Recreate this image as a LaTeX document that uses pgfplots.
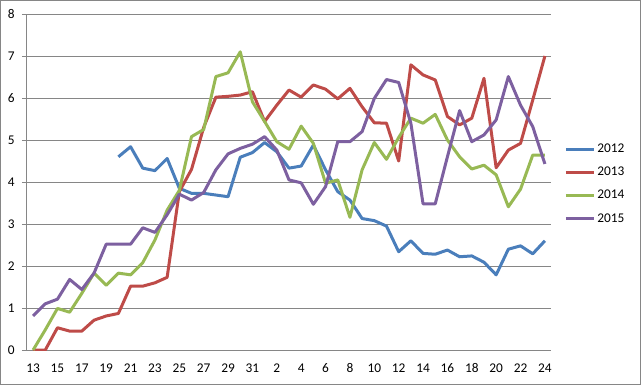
\documentclass[border=0pt]{standalone}
\usepackage{pgfplots}
\pgfplotsset{compat=1.18}
\usepackage{fontspec}
\setmainfont{Carlito}
\definecolor{c12}{HTML}{4A7EBB}
\definecolor{c13}{HTML}{BE4B48}
\definecolor{c14}{HTML}{98B954}
\definecolor{c15}{HTML}{7D60A0}
\definecolor{gridc}{HTML}{868686}
\begin{document}
\begin{tikzpicture}
\useasboundingbox (0,0) rectangle (480.75pt,288.75pt);
\draw[gridc, line width=0.75pt] (0.375pt,0.375pt) rectangle (480.375pt,288.375pt);
\begin{axis}[
  at={(20.25pt,26.25pt)}, anchor=south west,
  scale only axis, width=393pt, height=252pt,
  xmin=-0.5, xmax=42.5, ymin=0, ymax=8,
  axis x line=bottom, axis y line=left,
  x axis line style={-, gridc, line width=0.75pt},
  y axis line style={-, gridc, line width=0.75pt},
  xtick={0,2,...,42},
  xticklabels={13,15,17,19,21,23,25,27,29,31,2,4,6,8,10,12,14,16,18,20,22,24},
  major x tick style={draw=none},
  extra x ticks={-0.5,0.5,...,42.5},
  extra x tick labels={},
  extra x tick style={major tick length=3.75pt, tick align=outside, tick style={gridc, line width=0.75pt}},
  ytick={0,1,...,8},
  ymajorgrids,
  grid style={gridc, line width=0.75pt},
  y tick style={gridc, line width=0.75pt},
  major tick length=3.75pt, tick align=outside,
  /pgf/number format/assume math mode=true,
  tick label style={font=\fontsize{10}{12}\selectfont, black},
  xticklabel style={yshift=-3pt},
  yticklabel style={xshift=-2pt},
  legend style={draw=none, fill=none, at={(1.025,0.62)}, anchor=north west,
    font=\fontsize{10}{12}\selectfont, row sep=6.4pt, inner sep=0pt,
    nodes={inner sep=1.5pt}},
  legend cell align=left,
  legend image code/.code={\draw[#1] (0pt,0pt) -- (21pt,0pt);},
  every axis plot/.append style={line width=2.25pt, line join=round, mark=none},
]
\addplot[c12] coordinates {(7,4.60) (8,4.84) (9,4.33) (10,4.27) (11,4.56) (12,3.85) (13,3.73) (14,3.73) (15,3.69) (16,3.65) (17,4.59) (18,4.70) (19,4.94) (20,4.72) (21,4.33) (22,4.38) (23,4.88) (24,4.29) (25,3.77) (26,3.57) (27,3.13) (28,3.08) (29,2.95) (30,2.34) (31,2.60) (32,2.30) (33,2.28) (34,2.38) (35,2.22) (36,2.24) (37,2.09) (38,1.79) (39,2.40) (40,2.48) (41,2.29) (42,2.60)};
\addlegendentry{2012}
\addplot[c13] coordinates {(0,0) (1,0) (2,0.53) (3,0.45) (4,0.45) (5,0.71) (6,0.81) (7,0.87) (8,1.52) (9,1.52) (10,1.60) (11,1.73) (12,3.77) (13,4.30) (14,5.30) (15,6.02) (16,6.04) (17,6.07) (18,6.15) (19,5.44) (20,5.83) (21,6.19) (22,6.02) (23,6.31) (24,6.21) (25,5.98) (26,6.23) (27,5.79) (28,5.41) (29,5.40) (30,4.50) (31,6.79) (32,6.55) (33,6.43) (34,5.56) (35,5.36) (36,5.52) (37,6.47) (38,4.34) (39,4.76) (40,4.92) (41,5.95) (42,7.00)};
\addlegendentry{2013}
\addplot[c14] coordinates {(0,0) (1,0.48) (2,0.99) (3,0.90) (4,1.35) (5,1.83) (6,1.54) (7,1.83) (8,1.79) (9,2.08) (10,2.62) (11,3.33) (12,3.80) (13,5.08) (14,5.25) (15,6.51) (16,6.60) (17,7.10) (18,5.91) (19,5.44) (20,4.96) (21,4.78) (22,5.33) (23,4.92) (24,3.97) (25,4.05) (26,3.16) (27,4.29) (28,4.94) (29,4.54) (30,5.06) (31,5.52) (32,5.40) (33,5.61) (34,5.00) (35,4.60) (36,4.31) (37,4.40) (38,4.17) (39,3.41) (40,3.83) (41,4.64) (42,4.64)};
\addlegendentry{2014}
\addplot[c15] coordinates {(0,0.81) (1,1.10) (2,1.21) (3,1.68) (4,1.44) (5,1.83) (6,2.52) (7,2.52) (8,2.52) (9,2.91) (10,2.80) (11,3.22) (12,3.71) (13,3.57) (14,3.75) (15,4.29) (16,4.67) (17,4.80) (18,4.90) (19,5.08) (20,4.76) (21,4.05) (22,3.98) (23,3.47) (24,3.89) (25,4.96) (26,4.96) (27,5.20) (28,5.99) (29,6.44) (30,6.37) (31,5.40) (32,3.48) (33,3.48) (34,4.60) (35,5.70) (36,4.96) (37,5.12) (38,5.48) (39,6.51) (40,5.83) (41,5.32) (42,4.43)};
\addlegendentry{2015}
\end{axis}
\end{tikzpicture}
\end{document}
